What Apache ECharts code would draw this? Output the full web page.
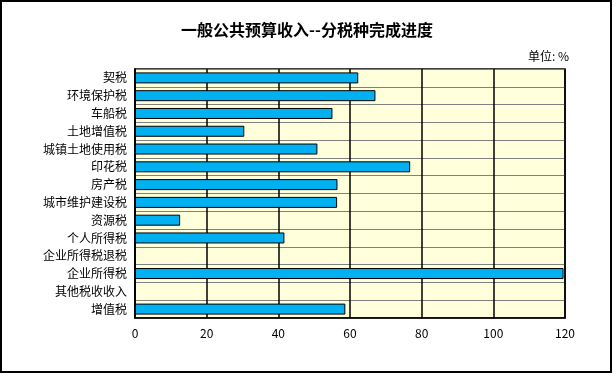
<!DOCTYPE html>
<html>
<head>
<meta charset="utf-8">
<script src="https://cdn.jsdelivr.net/npm/echarts@6/dist/echarts.min.js"></script>
<style>
html,body{margin:0;padding:0;background:#fff;}
#c{width:614px;height:374px;}
</style>
</head>
<body>
<div id="c"></div>
<script>
var categories = ['契税','环境保护税','车船税','土地增值税','城镇土地使用税','印花税','房产税','城市维护建设税','资源税','个人所得税','企业所得税退税','企业所得税','其他税收收入','增值税'];
var values = [62.3, 67.1, 55.1, 30.5, 50.9, 76.8, 56.5, 56.4, 12.6, 41.7, 0, 119.6, 0, 58.7];
var xTicks = [0, 20, 40, 60, 80, 100, 120];
var titleText = '一般公共预算收入--分税种完成进度';
var unitText = '单位: %';

var FONT = '"Noto Sans CJK SC", "DejaVu Sans", sans-serif';
var chart = echarts.init(document.getElementById('c'), null, {renderer: 'canvas'});
chart.setOption({
  animation: false,
  backgroundColor: '#ffffff',
  title: [{
    text: titleText,
    left: 'center',
    top: 17,
    textStyle: {fontFamily: FONT, fontSize: 16, fontWeight: 'bold', color: '#000'}
  }, {
    text: unitText,
    left: 523,
    top: 45,
    textStyle: {fontFamily: FONT, fontSize: 12, fontWeight: 'normal', color: '#000'}
  }],
  graphic: [{
    type: 'rect',
    shape: {x: 1, y: 1, width: 610, height: 371},
    style: {fill: 'none', stroke: '#000', lineWidth: 2},
    silent: true,
    z: 100
  }],
  grid: {
    left: 135, right: 49, top: 69, bottom: 56,
    show: true,
    backgroundColor: '#FFFFDC',
    borderColor: '#000',
    borderWidth: 1.5
  },
  xAxis: {
    type: 'value',
    min: xTicks[0],
    max: xTicks[xTicks.length - 1],
    interval: xTicks[1] - xTicks[0],
    axisLine: {show: true, lineStyle: {color: '#000', width: 1.5}},
    axisTick: {show: false},
    splitLine: {show: true, lineStyle: {color: '#000', width: 1.5}},
    axisLabel: {fontFamily: FONT, fontSize: 12, color: '#000', margin: 9}
  },
  yAxis: {
    type: 'category',
    inverse: true,
    data: categories,
    axisLine: {show: true, lineStyle: {color: '#000', width: 1.5}},
    axisTick: {show: false},
    splitLine: {show: true, lineStyle: {color: '#808080', width: 1}},
    axisLabel: {fontFamily: FONT, fontSize: 12, color: '#000', margin: 8}
  },
  series: [{
    type: 'bar',
    data: values,
    barWidth: 11,
    itemStyle: {color: '#00B0F0', borderColor: '#000', borderWidth: 1}
  }]
});
</script>
</body>
</html>
